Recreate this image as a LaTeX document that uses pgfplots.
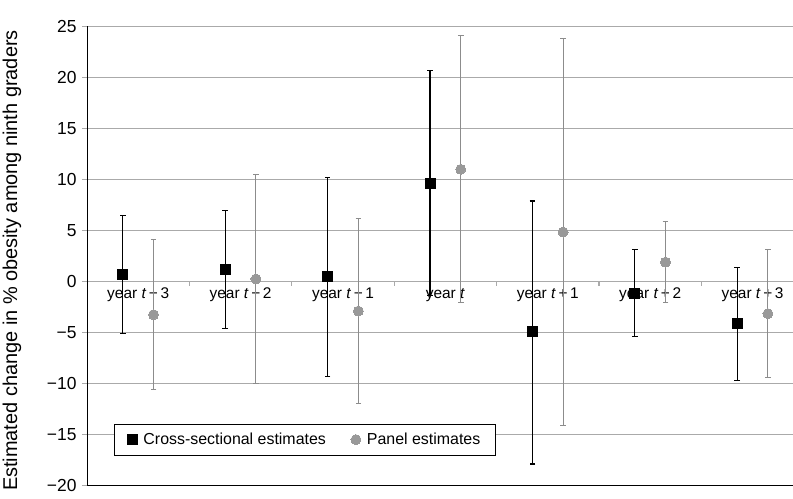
\documentclass[border=0pt]{standalone}
\usepackage{fontspec}
\setmainfont{Liberation Sans}
\usepackage{pgfplots}
\pgfplotsset{compat=1.18}
\definecolor{gridc}{RGB}{170,170,170}
\definecolor{pan}{HTML}{999999}
\definecolor{panbar}{HTML}{8C8C8C}
\begin{document}
\begin{tikzpicture}
\begin{axis}[
  scale only axis, width=706bp, height=459bp,
  xmin=-0.5, xmax=6.395, ymin=-20, ymax=25,
  axis x line*=bottom, axis y line*=left,
  axis line style={black, line width=1pt},
  tick align=outside,
  major tick length=5bp,
  ytick={-20,-15,-10,-5,0,5,10,15,20,25},
  yticklabels={−20,−15,−10,−5,0,5,10,15,20,25},
  yticklabel style={font=\fontsize{17.5}{20}\selectfont, xshift=-2bp},
  grid=major,
  xmajorgrids=false,
  ymajorgrids=true,
  every major grid/.style={draw=gridc, line width=1.3bp},
  every major y tick/.style={draw=gridc, line width=1.3bp},
  xtick={0,...,6},
  xticklabels={year \textit{t}\,−\,3, year \textit{t}\,−\,2, year \textit{t}\,−\,1, year \textit{t}, year \textit{t}\,+\,1, year \textit{t}\,+\,2, year \textit{t}\,+\,3},
  every major x tick/.style={draw=none},
  xticklabel style={font=\fontsize{15.5}{18}\selectfont, yshift=206bp},
  ylabel={Estimated change in \% obesity among ninth graders},
  ylabel style={font=\fontsize{20}{24}\selectfont, at={(axis description cs:-0.1062,0.49)}, anchor=center},
  /pgf/number format/assume math mode=true,
  legend style={at={(axis description cs:0.0382,0.0651)}, anchor=south west, legend columns=2,
    draw=black, line width=1pt, font=\fontsize{16}{19}\selectfont,
    inner xsep=13bp, inner ysep=7bp,
    /tikz/every even column/.append style={column sep=23bp}},
  clip=false,
]
\pgfplotsinvokeforeach{0.5,1.5,2.5,3.5,4.5,5.5}{
  \draw[gridc, line width=1.3bp] (axis cs:#1,0) -- (axis cs:#1,-0.4);
}
\addplot[only marks, mark=square*, mark size=5bp, black, mark options={fill=black, line width=0pt},
  error bars/.cd, y dir=both, y explicit,
  error bar style={line width=1.3pt, black},
  error mark options={rotate=90, mark size=2.8bp, line width=1.2pt, black}]
  table[x=x, y=y, y error plus=ep, y error minus=em] {
x y ep em
-0.15 0.7 5.8 5.8
0.85 1.2 5.8 5.8
1.85 0.45 9.75 9.75
2.85 9.65 11.05 11.05
3.85 -4.95 12.85 12.95
4.85 -1.15 4.25 4.25
5.85 -4.15 5.55 5.55
};
\addlegendentry{\hspace{4bp}Cross-sectional estimates}
\addplot[only marks, mark=*, mark size=5bp, pan, mark options={fill=pan, draw=pan, line width=0pt},
  error bars/.cd, y dir=both, y explicit,
  error bar style={line width=1pt, panbar},
  error mark options={rotate=90, mark size=2.8bp, line width=1pt, panbar}]
  table[x=x, y=y, y error plus=ep, y error minus=em] {
x y ep em
0.15 -3.25 7.35 7.35
1.15 0.25 10.25 10.25
2.15 -2.9 9.1 9.1
3.15 11.0 13.1 13.1
4.15 4.85 18.95 18.95
5.15 1.9 3.95 4.0
6.15 -3.15 6.25 6.25
};
\addlegendentry{\hspace{4bp}Panel estimates\hspace{12bp}}
\end{axis}
\pgfresetboundingbox
\path[use as bounding box] (-87bp,-13.5bp) rectangle (706bp,485.5bp);
\end{tikzpicture}
\end{document}
